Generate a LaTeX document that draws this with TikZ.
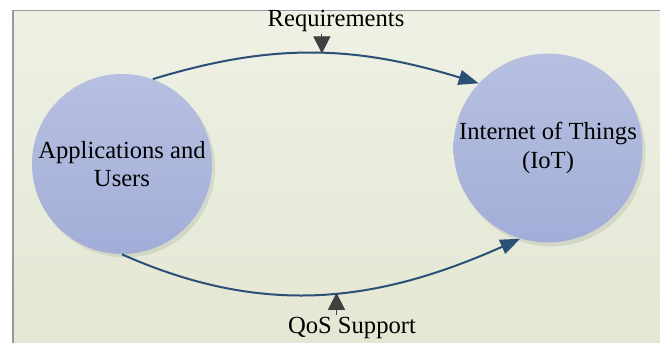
\documentclass[tikz,border=0pt]{standalone}
\usepackage{fontspec}
\setmainfont{Liberation Serif}
\usetikzlibrary{arrows.meta}

\definecolor{bgtop}{HTML}{EEF1E4}
\definecolor{bgbot}{HTML}{E2E6D1}
\definecolor{balltop}{HTML}{B7C0E0}
\definecolor{ballbot}{HTML}{A2AED8}
\definecolor{flow}{HTML}{2A5078}
\definecolor{hint}{HTML}{404040}

\begin{document}
\begin{tikzpicture}[>={Triangle[length=0.4cm,width=0.3cm]},
                    font=\fontsize{14}{16}\selectfont]

    \useasboundingbox (0,0) rectangle (13.2,6.84);
    \clip (0,0) rectangle (13.2,6.84);

    \node[rectangle,
          draw = gray!80,
          line width = 0.03cm,
          top color = bgtop,
          bottom color = bgbot,
          minimum width = 14cm,
          minimum height = 7.2cm,
          anchor = north west
          ] (frame) at (0.24,6.64) {};

    % shadows
    \node[circle,
          fill = black,
          opacity = 0.08,
          minimum size = 3.6cm
          ] (appsshadow) at (2.5,3.49) {};
    \node[circle,
          fill = black,
          opacity = 0.08,
          minimum size = 3.78cm
          ] (iotshadow) at (11.02,3.8) {};

    \node[circle,
          top color = balltop,
          bottom color = ballbot,
          inner sep = 0pt,
          minimum size = 3.6cm
          ] (apps) at (2.44,3.56) {};
    \node[align=center] (appstext) at (apps.center) {Applications and\\Users};

    \node[circle,
          top color = balltop,
          bottom color = ballbot,
          inner sep = 0pt,
          minimum size = 3.78cm
          ] (iot) at (10.96,3.88) {};
    \node[align=center] (iottext) at (iot.center) {Internet of Things\\(IoT)};

    \draw[->, flow, line width = 0.04cm]
    (apps.70) to [out=17, in=163] coordinate[pos=0.52] (reqpt) (iot.137);
    \draw[->, flow, line width = 0.04cm]
    (apps.south) to [out=-24, in=204] coordinate[pos=0.54] (qospt) (iot.253);

    \node[anchor=base, inner sep=1pt] (req) at (6.72,6.30) {Requirements};
    \node[anchor=base, inner sep=1pt] (qos) at (7.04,0.18) {QoS Support};

%    \node (req) at (6.72,6.46) {Requirements};

    \path[every path/.style={hint, line width=0.6pt,
          -{Triangle[length=0.34cm,width=0.34cm]}}]
    (req.south -| reqpt) edge [] (reqpt)
    (qos.north -| qospt) edge [] (qospt);

\end{tikzpicture}
\end{document}
